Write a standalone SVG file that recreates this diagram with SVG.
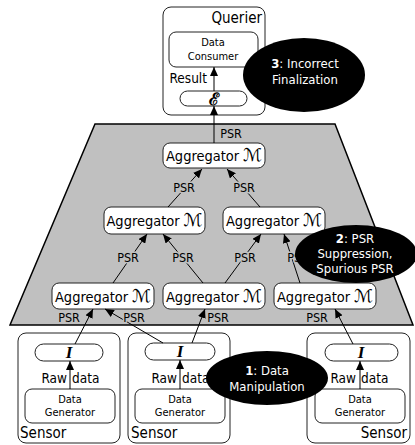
<svg xmlns="http://www.w3.org/2000/svg" width="415" height="445" viewBox="0 0 415 445">
<defs>
<style>
text{font-family:"DejaVu Sans Condensed","DejaVu Sans","Liberation Sans",sans-serif;fill:#000}
.box{fill:#fff;stroke:#222;stroke-width:1}
.agg{font-size:14.5px;text-anchor:middle}
.sym{font-family:"DejaVu Serif","DejaVu Sans",serif;font-style:italic;font-size:17.5px}
.psr{font-size:12.5px;text-anchor:middle;stroke:#c0c0c0;stroke-width:3;paint-order:stroke;stroke-linejoin:round}
.small{font-size:11px;text-anchor:middle}
.big{font-size:15px}
.raw{font-size:13.5px}
.ell{fill:#000}
.et{font-size:13px;text-anchor:middle;fill:#fff}
.conn line{stroke:#000;stroke-width:1;marker-end:url(#ah)}
.I{font-family:"Liberation Serif",serif;font-style:italic;font-weight:bold;font-size:17px;text-anchor:middle}
</style>
<marker id="ah" markerUnits="userSpaceOnUse" markerWidth="9" markerHeight="8" refX="9" refY="4" orient="auto">
<path d="M0,0 L9,4 L0,8 z" fill="#000"/>
</marker>
</defs>
<rect width="415" height="445" fill="#fff"/>

<g id="network">
<polygon points="95,124 335,124 413,325 10,325" fill="#c0c0c0" stroke="#000" stroke-width="1.5"/>
</g>

<g id="querier">
<rect class="box" x="163" y="7" width="102" height="108" rx="8"/>
<text class="big" x="262" y="23" text-anchor="end">Querier</text>
</g>
<g id="consumer">
<rect class="box" x="169" y="32" width="89" height="35" rx="7"/>
<text class="small" x="213" y="46">Data</text>
<text class="small" x="213" y="60">Consumer</text>
</g>
<g id="evaluator">
<rect class="box" x="180" y="91" width="67" height="15" rx="7.5"/>
<text x="213.5" y="104.5" text-anchor="middle" style="font-family:'DejaVu Serif',serif;font-size:17px;font-weight:bold">ℰ</text>
</g>
<text class="raw" x="207" y="83" text-anchor="end">Result</text>

<g id="agg-top">
<rect class="box" x="163" y="143" width="102" height="25" rx="7"/>
<text class="agg" x="214" y="161">Aggregator <tspan class="sym">ℳ</tspan></text>
</g>
<g id="agg-l2a">
<rect class="box" x="104" y="207" width="101" height="27" rx="7"/>
<text class="agg" x="154.5" y="226">Aggregator <tspan class="sym">ℳ</tspan></text>
</g>
<g id="agg-l2b">
<rect class="box" x="223" y="207" width="102" height="27" rx="7"/>
<text class="agg" x="274" y="226">Aggregator <tspan class="sym">ℳ</tspan></text>
</g>
<g id="agg-l3a">
<rect class="box" x="52" y="283" width="102" height="26" rx="7"/>
<text class="agg" x="103" y="302">Aggregator <tspan class="sym">ℳ</tspan></text>
</g>
<g id="agg-l3b">
<rect class="box" x="163" y="283" width="102" height="26" rx="7"/>
<text class="agg" x="214" y="302">Aggregator <tspan class="sym">ℳ</tspan></text>
</g>
<g id="agg-l3c">
<rect class="box" x="274" y="283" width="102" height="26" rx="7"/>
<text class="agg" x="325" y="302">Aggregator <tspan class="sym">ℳ</tspan></text>
</g>

<g id="sensor1">
<rect class="box" x="18" y="333" width="102" height="110" rx="8"/>
<rect class="box" x="35" y="344" width="68" height="17" rx="8.5"/>
<text class="I" x="69" y="358">I</text>
<text class="raw" x="67" y="383" text-anchor="end">Raw</text>
<text class="raw" x="72" y="383">data</text>
<rect class="box" x="25" y="389" width="90" height="34" rx="7"/>
<text class="small" x="70" y="403">Data</text>
<text class="small" x="70" y="416">Generator</text>
<text class="big" x="20" y="438">Sensor</text>
</g>
<g id="sensor2">
<rect class="box" x="128" y="333" width="102" height="110" rx="8"/>
<rect class="box" x="145" y="343" width="70" height="17" rx="8.5"/>
<text class="I" x="180" y="357">I</text>
<text class="raw" x="177" y="383" text-anchor="end">Raw</text>
<text class="raw" x="182" y="383">data</text>
<rect class="box" x="135" y="389" width="90" height="34" rx="7"/>
<text class="small" x="180" y="403">Data</text>
<text class="small" x="180" y="416">Generator</text>
<text class="big" x="131" y="438">Sensor</text>
</g>
<g id="sensor3">
<rect class="box" x="307" y="333" width="103" height="110" rx="8"/>
<rect class="box" x="325" y="344" width="73" height="17" rx="8.5"/>
<text class="I" x="361" y="358">I</text>
<text class="raw" x="356" y="383" text-anchor="end">Raw</text>
<text class="raw" x="361" y="383">data</text>
<rect class="box" x="315" y="389" width="90" height="34" rx="7"/>
<text class="small" x="360" y="403">Data</text>
<text class="small" x="360" y="416">Generator</text>
<text class="big" x="407" y="438" text-anchor="end">Sensor</text>
</g>

<g class="conn" id="connectors">
<line x1="214" y1="91" x2="214" y2="67"/>
<line x1="214" y1="143" x2="214" y2="106"/>
<line x1="168" y1="207" x2="202" y2="169"/>
<line x1="260" y1="207" x2="227" y2="169"/>
<line x1="113" y1="283" x2="147" y2="234"/>
<line x1="203" y1="283" x2="163" y2="234"/>
<line x1="225" y1="283" x2="261" y2="234"/>
<line x1="300" y1="283" x2="284" y2="234"/>
<line x1="75" y1="344" x2="93" y2="309"/>
<line x1="163" y1="343" x2="105" y2="309"/>
<line x1="192" y1="343" x2="205" y2="309"/>
<line x1="353" y1="344" x2="335" y2="309"/>
<line x1="70" y1="389" x2="70" y2="361"/>
<line x1="180" y1="389" x2="180" y2="360"/>
<line x1="360" y1="389" x2="360" y2="361"/>
</g>

<g id="labels">
<text class="psr" x="231" y="138">PSR</text>
<text class="psr" x="184" y="192">PSR</text>
<text class="psr" x="244" y="192">PSR</text>
<text class="psr" x="128" y="262">PSR</text>
<text class="psr" x="183" y="262">PSR</text>
<text class="psr" x="245" y="262">PSR</text>
<text class="psr" x="298" y="262">PSR</text>
<text class="psr" x="69" y="322">PSR</text>
<text class="psr" x="134" y="322">PSR</text>
<text class="psr" x="218" y="322">PSR</text>
<text class="psr" x="317" y="322">PSR</text>
</g>

<g id="attack3">
<ellipse class="ell" cx="304" cy="75" rx="61" ry="37"/>
<text class="et" x="305" y="68"><tspan font-weight="bold">3</tspan>: Incorrect</text>
<text class="et" x="305" y="84">Finalization</text>
</g>
<g id="attack2">
<ellipse class="ell" cx="356" cy="254" rx="61" ry="29"/>
<text class="et" x="355" y="243"><tspan font-weight="bold">2</tspan>: PSR</text>
<text class="et" x="355" y="258">Suppression,</text>
<text class="et" x="355" y="273">Spurious PSR</text>
</g>
<g id="attack1">
<ellipse class="ell" cx="267" cy="378" rx="61" ry="27"/>
<text class="et" x="267" y="375"><tspan font-weight="bold">1</tspan>: Data</text>
<text class="et" x="267" y="391">Manipulation</text>
</g>
</svg>
